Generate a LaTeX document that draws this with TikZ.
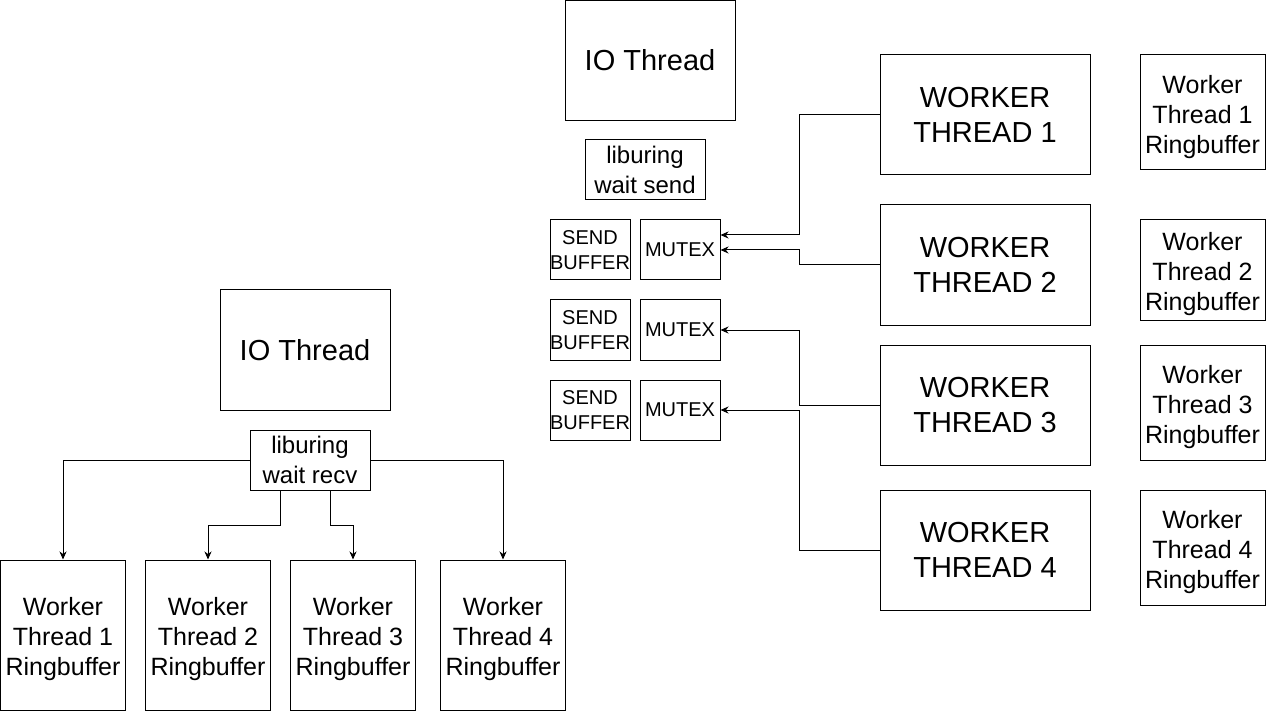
\documentclass[tikz,border=0pt]{standalone}
\usepackage{fontspec}
\setmainfont{Liberation Sans}
\usepackage{tikz}
\usetikzlibrary{arrows.meta,positioning}

% ringbuffer label, first line strut keeps text centred like the drawing
\newcommand\rbtext[1]{\rule{0pt}{27pt}Worker\\Thread #1\\Ringbuffer}

\begin{document}
\begin{tikzpicture}[
    x=1pt, y=-1pt,
    line width=1pt,
    every node/.style={
        draw,
        inner sep=0pt,
        align=center
    },
    iobox/.style={minimum width=170pt, minimum height=120pt,
        font=\fontsize{29}{33}\selectfont},
    wtbox/.style={minimum width=210pt, minimum height=120pt,
        font=\fontsize{29}{35}\selectfont},
    rbbox/.style={minimum width=125pt,
        font=\fontsize{25}{30}\selectfont},
    waitbox/.style={minimum width=120pt, minimum height=60pt,
        font=\fontsize{24}{30}\selectfont},
    smallbox/.style={minimum width=80pt, minimum height=60pt,
        font=\fontsize{20}{25}\selectfont},
    arr/.style={-{Stealth[length=8pt,width=7pt,inset=2.5pt]}}
]
\useasboundingbox (0,0) rectangle (1266,711);
% left: receive side
\node[iobox] (ioRecv) at (305,350) {IO Thread};
\node[waitbox] (waitRecv) at (310,460) {liburing\\wait recv};
\node[rbbox, minimum height=150pt] (rb1) at (63,635) {\rbtext{1}};
\node[rbbox, minimum height=150pt] (rb2) at (208,635) {\rbtext{2}};
\node[rbbox, minimum height=150pt] (rb3) at (353,635) {\rbtext{3}};
\node[rbbox, minimum height=150pt] (rb4) at (503,635) {\rbtext{4}};
\draw[arr] (waitRecv.west) -| (rb1.north);
\draw[arr] ([xshift=-30pt]waitRecv.south) -- ++(0,35) -| (rb2.north);
\draw[arr] ([xshift=20pt]waitRecv.south) -- ++(0,35) -| (rb3.north);
\draw[arr] (waitRecv.east) -| (rb4.north);
% right: send side
\node[iobox] (ioSend) at (650,60.5) {IO Thread};
\node[waitbox] (waitSend) at (645,170) {liburing\\wait send};
\foreach \i/\y in {1/250,2/330,3/410}{
    \node[smallbox] (sendBuf\i) at (590,\y) {SEND\\BUFFER};
    \node[smallbox] (mutex\i) at (680,\y) {MUTEX};
}
\node[wtbox] (wt1) at (985,115) {WORKER\\THREAD 1};
\node[wtbox] (wt2) at (985,265) {WORKER\\THREAD 2};
\node[wtbox] (wt3) at (985,405) {WORKER\\THREAD 3};
\node[wtbox] (wt4) at (985,550) {WORKER\\THREAD 4};
\node[rbbox, minimum height=115pt] (rbw1) at (1202.5,112.5) {\rbtext{1}};
\node[rbbox, minimum height=100pt] (rbw2) at (1202.5,270) {\rbtext{2}};
\node[rbbox, minimum height=115pt] (rbw3) at (1202.5,402.5) {\rbtext{3}};
\node[rbbox, minimum height=115pt] (rbw4) at (1202.5,547.5) {\rbtext{4}};
\draw[arr] (wt1.west) -- ++(-80,0) |- ([yshift=15pt]mutex1.east);
\draw[arr] (wt2.west) -- ++(-80,0) |- (mutex1.east);
\draw[arr] (wt3.west) -- ++(-80,0) |- (mutex2.east);
\draw[arr] (wt4.west) -- ++(-80,0) |- (mutex3.east);
\end{tikzpicture}
\end{document}
